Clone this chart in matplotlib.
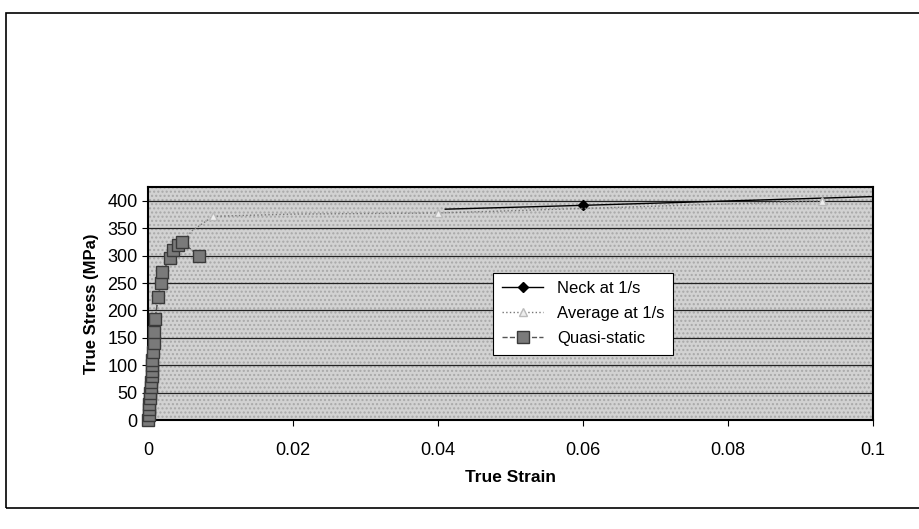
import numpy as np
import matplotlib.pyplot as plt
from matplotlib.patches import Rectangle

plt.rcParams['font.family'] = ['Liberation Sans', 'DejaVu Sans']

# Neck at 1/s
neck_strain = [0.041, 0.06, 0.1]
neck_stress = [385, 392, 408]

# Average at 1/s
avg_strain = [0.0, 0.0008, 0.0015, 0.003, 0.006, 0.009, 0.02, 0.04, 0.093]
avg_stress = [0, 170, 230, 290, 345, 372, 376, 378, 400]

# Quasi-static
qs_strain = [0.0, 0.0001, 0.0002, 0.0002, 0.0003, 0.0003, 0.0004, 0.0004, 0.0005,
             0.0005, 0.0006, 0.0006, 0.0007, 0.0008, 0.0009, 0.001, 0.0014,
             0.0018, 0.002, 0.003, 0.0035, 0.0042, 0.0047, 0.007]
qs_stress = [0, 10, 20, 30, 40, 50, 60, 70, 80,
             90, 100, 110, 125, 140, 160, 185, 225,
             250, 270, 295, 310, 320, 325, 300]

fig = plt.figure(figsize=(9.19, 5.29), dpi=100)
ax = fig.add_axes([0.161, 0.206, 0.789, 0.44])

# Hintergrund gepunktet
ax.set_facecolor('#d2d2d2')
ax.add_patch(Rectangle((0, 0), 1, 1, transform=ax.transAxes, facecolor='none',
                       edgecolor='#a8a8a8', hatch='....', lw=0, zorder=0))

ax.plot(neck_strain, neck_stress, color='black', lw=1.0, marker='D', ms=5,
        markevery=[1], label='Neck at 1/s', zorder=3, clip_on=False)
ax.plot(avg_strain, avg_stress, color='#777777', lw=1.0, ls=':', marker='^', ms=6,
        mfc='#eeeeee', mec='#bbbbbb', markevery=[5, 7, 8], label='Average at 1/s', zorder=3)
ax.plot(qs_strain, qs_stress, color='#555555', lw=1.0, ls='--', marker='s', ms=8,
        mfc='#7a7a7a', mec='#3a3a3a', label='Quasi-static', zorder=4, clip_on=False)

ax.set_xlim(0, 0.1)
ax.set_ylim(0, 425)
ax.set_yticks(np.arange(0, 401, 50))
ax.set_xticks([0, 0.02, 0.04, 0.06, 0.08, 0.1])
ax.set_xticklabels(['0', '0.02', '0.04', '0.06', '0.08', '0.1'])
ax.yaxis.grid(True, color='#222222', lw=0.9)
ax.set_axisbelow(True)
ax.tick_params(labelsize=13, length=4, direction='out')
ax.tick_params(axis='x', pad=12)
for s in ax.spines.values():
    s.set_linewidth(1.5)

ax.set_xlabel('True Strain', fontsize=12.5, fontweight='bold', labelpad=8)
ax.set_ylabel('True Stress (MPa)', fontsize=12, fontweight='bold', labelpad=6)

leg = ax.legend(loc='lower left', bbox_to_anchor=(0.465, 0.245), fontsize=12,
                frameon=True, fancybox=False, edgecolor='black', framealpha=1,
                handlelength=2.5, borderpad=0.5, labelspacing=0.6)
leg.get_frame().set_linewidth(0.8)

# Rahmen um das Diagramm
fig.patches.append(Rectangle((0.007, 0.04), 1.05, 0.935, transform=fig.transFigure,
                             fill=False, edgecolor='black', lw=1.2))

plt.savefig('out.png')
